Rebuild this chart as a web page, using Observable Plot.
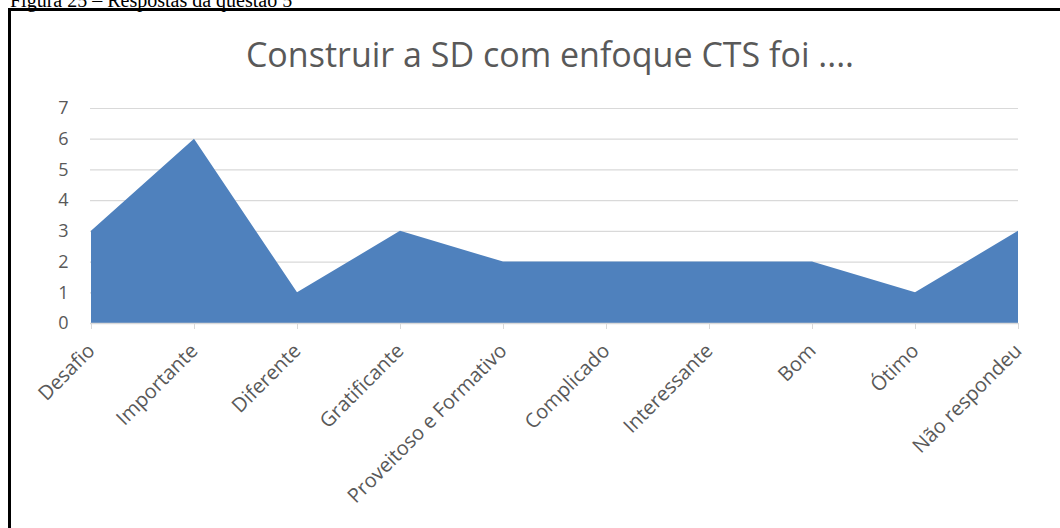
<!DOCTYPE html>
<html>
<head>
<meta charset="utf-8">
<script src="https://cdn.jsdelivr.net/npm/d3@7"></script>
<script src="https://cdn.jsdelivr.net/npm/@observablehq/plot@0.6"></script>
<style>
  html, body { margin: 0; padding: 0; width: 1060px; height: 528px; overflow: hidden; background: #fff; }
  #caption { position: absolute; left: 10px; top: -11px; font-family: "Liberation Serif", serif; font-size: 20px; color: #000; white-space: nowrap; }
  #frame { position: absolute; left: 8px; top: 8px; width: 1200px; height: 700px; border-left: 3px solid #000; border-top: 3px solid #000; }
  #title { position: absolute; left: 0; width: 1100px; top: 31px; text-align: center; font-family: "Open Sans", sans-serif; font-size: 34px; color: #595959; white-space: nowrap; }
  #chart { position: absolute; left: 0; top: 90px; }
</style>
</head>
<body>
<div id="caption">Figura 25 – Respostas da questão 5</div>
<div id="frame"></div>
<div id="title">Construir a SD com enfoque CTS foi ....</div>
<div id="chart"></div>
<script>
const categories = ["Desafio", "Importante", "Diferente", "Gratificante", "Proveitoso e Formativo", "Complicado", "Interessante", "Bom", "Ótimo", "Não respondeu"];
const values = [3, 6, 1, 3, 2, 2, 2, 2, 1, 3];
const yTicks = [0, 1, 2, 3, 4, 5, 6, 7];

const data = categories.map((c, i) => ({category: c, value: values[i]}));

const chart = Plot.plot({
  width: 1060,
  height: 438,
  marginTop: 18,
  marginBottom: 205,
  marginLeft: 90,
  marginRight: 42,
  style: {fontFamily: "'Open Sans', sans-serif", fontSize: "18px", color: "#595959", background: "transparent"},
  x: {type: "point", domain: categories, padding: 0, label: null},
  y: {domain: [0, 7], label: null},
  marks: [
    Plot.ruleY(yTicks.filter(d => d > 0), {stroke: "#d9d9d9", strokeWidth: 1.2}),
    Plot.areaY(data, {x: "category", y: "value", fill: "#4f81bd", curve: "linear"}),
    Plot.ruleY([0], {stroke: "#d9d9d9", strokeWidth: 1.5}),
    Plot.axisY({ticks: yTicks, tickFormat: "d", tickSize: 0, tickPadding: 22, fontSize: 18, fill: "#595959", label: null}),
    Plot.axisX({tickSize: 6, tickPadding: 18, tickRotate: -45, fontSize: 20, fill: "#595959", stroke: "#d9d9d9", label: null})
  ]
});
document.getElementById("chart").appendChild(chart);
</script>
</body>
</html>
